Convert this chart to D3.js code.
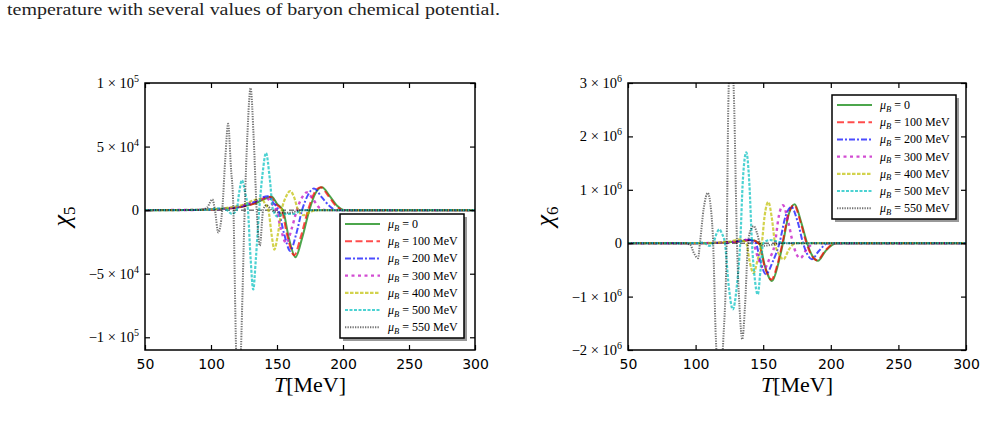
<!DOCTYPE html>
<html>
<head>
<meta charset="utf-8">
<script src="https://cdn.jsdelivr.net/npm/d3@7"></script>
<style>
  body { margin: 0; background: #fff; }
</style>
</head>
<body>
<script>
// ---- data ----
const tTicks = [50, 100, 150, 200, 250, 300];

// chi5 in units of 1e4
const chi5Ticks = [-10, -5, 0, 5, 10];
const chi5TickLabels = ['−1 × 10^5', '−5 × 10^4', '0', '5 × 10^4', '1 × 10^5'];
// chi6 in units of 1e6
const chi6Ticks = [-2, -1, 0, 1, 2, 3];
const chi6TickLabels = ['−2 × 10^6', '−1 × 10^6', '0', '1 × 10^6', '2 × 10^6', '3 × 10^6'];

const muValues = ['0', '100', '200', '300', '400', '500', '550'];

const chi5_mu0 = [[50,0],[90,0.02],[110,0.1],[125,0.3],[135,0.6],[141,0.9],[146,1.05],[150,0.5],[154.5,0],[159,-2.2],[164,-3.7],[169,-2.2],[174.5,0],[179,1.3],[184,1.8],[190,1.1],[196,0.3],[201,0],[300,0]];
const chi5_mu100 = [[50,0],[90,0.02],[110,0.1],[125,0.3],[135,0.62],[140,0.92],[145,1.05],[149,0.5],[153.5,0],[158,-2.1],[163,-3.55],[168,-2.1],[173.5,0],[178,1.3],[183,1.8],[189,1.1],[195,0.3],[200,0],[300,0]];
const chi5_mu200 = [[50,0],[90,0.02],[110,0.12],[125,0.35],[134,0.7],[139,1.0],[143,1.1],[147,0.6],[151,0],[155.5,-1.9],[160,-3.2],[164.5,-1.9],[169,0],[173.5,1.2],[178,1.7],[184,1.0],[190,0.3],[195,0],[300,0]];
const chi5_mu300 = [[50,0],[90,0.02],[110,0.12],[125,0.4],[135,0.75],[142,0.95],[146,0.5],[149.5,0],[153,-1.5],[157,-2.6],[161,-1.5],[165,0],[169,1.0],[172.7,1.4],[177,0.9],[182,0.2],[187,0],[300,0]];
const chi5_mu400 = [[50,0],[90,0.02],[110,0.15],[125,0.45],[133,0.8],[138,0.9],[141,0.5],[143.5,0],[146,-2.0],[148,-3.1],[150.5,-2.0],[153.5,0],[157,1.1],[160,1.5],[163,1.0],[166,0],[170,-0.4],[176,-0.1],[182,0],[300,0]];
const chi5_mu500 = [[50,0],[95,0.02],[108,0.15],[112,0],[116,-0.3],[119.4,0],[121.5,1.5],[123.4,2.36],[125.8,1.4],[128,0],[130,-3.8],[132,-6.24],[134,-3.8],[136.5,0],[139,2.8],[141.7,4.5],[144.5,2.5],[147,0],[150.5,-0.5],[155,-0.3],[162,-0.3],[170,0],[300,0]];
const chi5_mu550 = [[50,0],[92,0.02],[97,0.2],[101,0.84],[103,0],[105.5,-1.76],[108.5,0],[110.8,4.0],[113,6.8],[115,3.5],[117,0],[119,-11],[120.9,-16],[122.7,-11],[125.5,0],[127.6,6],[130,9.6],[132.4,5.5],[134.6,0],[137,-2.8],[139.5,0],[142,0.4],[146,0],[152,-0.2],[160,-0.2],[168,0],[300,0]];

const chi6_mu0 = [[50,0],[100,0],[120,0.01],[132,0.03],[141,0.06],[147,0],[151.5,-0.45],[156.5,-0.71],[161,-0.4],[164.6,0],[169,0.55],[173.3,0.73],[178,0.4],[182.5,0],[186,-0.22],[190.5,-0.33],[196,-0.15],[204,0],[300,0]];
const chi6_mu100 = [[50,0],[100,0],[120,0.01],[132,0.03],[140.5,0.06],[146.5,0],[151,-0.43],[156,-0.68],[160.5,-0.4],[164.2,0],[168.5,0.53],[172.8,0.72],[177.5,0.4],[182,0],[185.5,-0.22],[190,-0.32],[195.5,-0.15],[203,0],[300,0]];
const chi6_mu200 = [[50,0],[100,0],[120,0.01],[130,0.03],[139,0.07],[144.5,0],[148,-0.35],[152,-0.58],[157,-0.35],[162,0],[166.5,0.5],[170.8,0.68],[175.5,0.4],[179.5,0],[182.5,-0.2],[186,-0.3],[191,-0.15],[198,0],[300,0]];
const chi6_mu300 = [[50,0],[100,0],[118,0.01],[128,0.03],[137,0.06],[142.5,0],[146.5,-0.3],[150.5,-0.48],[154.5,-0.3],[158.7,0],[161.5,0.5],[164.6,0.71],[168.5,0.4],[172,0],[174.5,-0.2],[177.5,-0.28],[182,-0.12],[188,0],[300,0]];
const chi6_mu400 = [[50,0],[100,0],[115,0.01],[125,0.03],[133,0.07],[137.5,0],[140,-0.35],[142.8,-0.56],[146,-0.3],[149,0],[151,0.5],[153.8,0.77],[156.5,0.45],[158.7,0],[161.5,-0.2],[165,-0.3],[169,-0.12],[174,0],[300,0]];
const chi6_mu500 = [[50,0],[100,0],[106,0.01],[110,-0.05],[113,0],[115.5,0.18],[117.5,0.26],[119.5,0.18],[121.7,0],[124.5,-0.8],[127.5,-1.24],[130.5,-0.8],[133,0],[135,1.2],[137.5,1.7],[139.8,1.1],[141.7,0],[143.5,-0.6],[146,-0.96],[148,-0.5],[150,0],[155,0.06],[162,0.02],[170,0],[300,0]];
const chi6_mu550 = [[50,0],[92,0],[96,-0.03],[99,-0.2],[101.8,-0.28],[103.2,0],[106,0.65],[109,0.94],[111.5,0.6],[113,0],[115,-1.8],[117.8,-2.6],[120.5,-1.8],[123,0],[124.2,2.6],[126.3,3.9],[128.5,2.6],[130.6,0],[132.5,-1.2],[134.5,-1.8],[136.5,-1.2],[138.8,0],[140.8,0.25],[143,0.32],[145.3,0.2],[147.6,0],[150,-0.05],[156,-0.03],[165,0],[300,0]];

const chi5Series = [chi5_mu0, chi5_mu100, chi5_mu200, chi5_mu300, chi5_mu400, chi5_mu500, chi5_mu550];
const chi6Series = [chi6_mu0, chi6_mu100, chi6_mu200, chi6_mu300, chi6_mu400, chi6_mu500, chi6_mu550];

// ---- styles ----
const lineStyles = [
    { color: '#008000', dash: null,        width: 2 },
    { color: '#ff0000', dash: '7,3.5',     width: 2 },
    { color: '#0000ff', dash: '6,2,2,2',   width: 2 },
    { color: '#bf00bf', dash: '3,3.5',     width: 2.4 },
    { color: '#bfbf00', dash: '3.5,1.5',   width: 2.2 },
    { color: '#00bfbf', dash: '3,1.5',     width: 2.2 },
    { color: '#000000', dash: '1.3,1.2',   width: 2, opacity: 0.55 }
];

const serif = '"Liberation Serif", "DejaVu Serif", serif';
const sans = '"DejaVu Sans", sans-serif';

window.onload = () => {
    const width = 986;
    const height = 431;

    const svg = d3.select('body')
                  .append('svg')
                  .attr('width', width)
                  .attr('height', height)
                  .style('background', '#fff');

    // caption line from the paper
    svg.append('text')
       .attr('x', 7)
       .attr('y', 15)
       .attr('textLength', 493)
       .attr('lengthAdjust', 'spacingAndGlyphs')
       .style('font-family', serif)
       .style('font-size', '16px')
       .style('fill', '#222')
       .text('temperature with several values of baryon chemical potential.');

    drawPanel(svg, {
        id: 'p5', left: 145, right: 475, top: 83, bottom: 350,
        yDomain: [-11, 10], yTicks: chi5Ticks, yTickLabels: chi5TickLabels,
        series: chi5Series, sub: '5',
        legend: { x: 340, y: 214 }
    });

    drawPanel(svg, {
        id: 'p6', left: 628, right: 966, top: 83, bottom: 350,
        yDomain: [-2, 3], yTicks: chi6Ticks, yTickLabels: chi6TickLabels,
        series: chi6Series, sub: '6',
        legend: { x: 832, y: 95 }
    });
};

const appendPowerLabel = (text, label) => {
    const parts = label.split('^');
    text.append('tspan').text(parts[0]);
    if (parts[1]) {
        text.append('tspan')
            .attr('dy', -6)
            .style('font-size', '10px')
            .text(parts[1]);
    }
};

const drawPanel = (svg, o) => {
    const x = d3.scaleLinear().domain([50, 300]).range([o.left, o.right]);
    const y = d3.scaleLinear().domain(o.yDomain).range([o.bottom, o.top]);

    const g = svg.append('g').attr('id', o.id);

    g.append('clipPath')
     .attr('id', `${o.id}-clip`)
     .append('rect')
     .attr('x', o.left)
     .attr('y', o.top)
     .attr('width', o.right - o.left)
     .attr('height', o.bottom - o.top);

    const plot = g.append('g').attr('clip-path', `url(#${o.id}-clip)`);

    // dashed zero line
    plot.append('line')
        .attr('x1', o.left)
        .attr('x2', o.right)
        .attr('y1', y(0))
        .attr('y2', y(0))
        .style('stroke', '#333')
        .style('stroke-width', 1)
        .style('stroke-dasharray', '5,3');

    const line = d3.line()
                   .x(d => x(d[0]))
                   .y(d => y(d[1]))
                   .curve(d3.curveMonotoneX);

    o.series.forEach((s, i) => {
        const st = lineStyles[i];
        plot.append('path')
            .attr('d', line(s))
            .style('fill', 'none')
            .style('stroke', st.color)
            .style('stroke-opacity', st.opacity || 0.7)
            .style('stroke-width', st.width)
            .style('stroke-dasharray', st.dash);
    });

    // ticks, all four sides, pointing inward
    const tickLen = 5;
    const xAxisB = d3.axisBottom(x).tickValues(tTicks).tickSizeInner(-tickLen).tickSizeOuter(0).tickPadding(9);
    const xAxisT = d3.axisTop(x).tickValues(tTicks).tickSizeInner(-tickLen).tickSizeOuter(0).tickFormat('');
    const yAxisL = d3.axisLeft(y).tickValues(o.yTicks).tickSizeInner(-tickLen).tickSizeOuter(0).tickFormat('');
    const yAxisR = d3.axisRight(y).tickValues(o.yTicks).tickSizeInner(-tickLen).tickSizeOuter(0).tickFormat('');

    const gb = g.append('g').attr('transform', `translate(0,${o.bottom})`).call(xAxisB);
    g.append('g').attr('transform', `translate(0,${o.top})`).call(xAxisT);
    g.append('g').attr('transform', `translate(${o.left},0)`).call(yAxisL);
    g.append('g').attr('transform', `translate(${o.right},0)`).call(yAxisR);

    g.selectAll('.domain').remove();
    g.selectAll('.tick line').style('stroke', '#000').style('stroke-width', 1.2);

    gb.selectAll('.tick text')
      .style('font-family', sans)
      .style('font-size', '14px')
      .style('fill', '#000');

    // y tick labels with powers of ten
    o.yTicks.forEach((v, i) => {
        const t = g.append('text')
                   .attr('x', o.left - 6)
                   .attr('y', y(v) + 5)
                   .attr('text-anchor', 'end')
                   .style('font-family', serif)
                   .style('font-size', '14.5px')
                   .style('fill', '#000');
        appendPowerLabel(t, o.yTickLabels[i]);
    });

    // frame
    g.append('rect')
     .attr('x', o.left)
     .attr('y', o.top)
     .attr('width', o.right - o.left)
     .attr('height', o.bottom - o.top)
     .style('fill', 'none')
     .style('stroke', '#000')
     .style('stroke-width', 1.5);

    // axis labels
    const xl = g.append('text')
                .attr('x', (o.left + o.right) / 2)
                .attr('y', 392)
                .attr('text-anchor', 'middle')
                .style('font-family', serif)
                .style('font-size', '22px')
                .style('fill', '#000');
    xl.append('tspan').style('font-style', 'italic').text('T');
    xl.append('tspan').text('[MeV]');

    const ylx = o.left - 75;
    const yly = (o.top + o.bottom) / 2;
    const yl = g.append('text')
                .attr('transform', `translate(${ylx},${yly}) rotate(-90)`)
                .attr('text-anchor', 'middle')
                .style('font-family', serif)
                .style('font-size', '26px')
                .style('fill', '#000');
    yl.append('tspan').style('font-style', 'italic').text('χ');
    yl.append('tspan').attr('dy', 5).style('font-size', '17px').text(o.sub);

    drawLegend(g, o.legend.x, o.legend.y);
};

const drawLegend = (g, lx, ly) => {
    const w = 124;
    const h = 124;
    const step = 17.2;

    g.append('rect')
     .attr('x', lx + 3)
     .attr('y', ly + 3)
     .attr('width', w)
     .attr('height', h)
     .style('fill', '#999');

    g.append('rect')
     .attr('x', lx)
     .attr('y', ly)
     .attr('width', w)
     .attr('height', h)
     .style('fill', '#fff')
     .style('stroke', '#000')
     .style('stroke-width', 1.5);

    muValues.forEach((mu, i) => {
        const st = lineStyles[i];
        const cy = ly + 10 + i * step;

        g.append('line')
         .attr('x1', lx + 5)
         .attr('x2', lx + 40)
         .attr('y1', cy)
         .attr('y2', cy)
         .style('stroke', st.color)
         .style('stroke-opacity', st.opacity || 0.7)
         .style('stroke-width', st.width)
         .style('stroke-dasharray', st.dash);

        const t = g.append('text')
                   .attr('x', lx + 48)
                   .attr('y', cy + 4)
                   .style('font-family', serif)
                   .style('font-size', '12px')
                   .style('fill', '#000');
        t.append('tspan').style('font-style', 'italic').text('μ');
        t.append('tspan').attr('dy', 2.5).style('font-style', 'italic').style('font-size', '8.5px').text('B');
        t.append('tspan').attr('dy', -2.5).text(mu === '0' ? ' = 0' : ` = ${mu} MeV`);
    });
};
</script>
</body>
</html>
